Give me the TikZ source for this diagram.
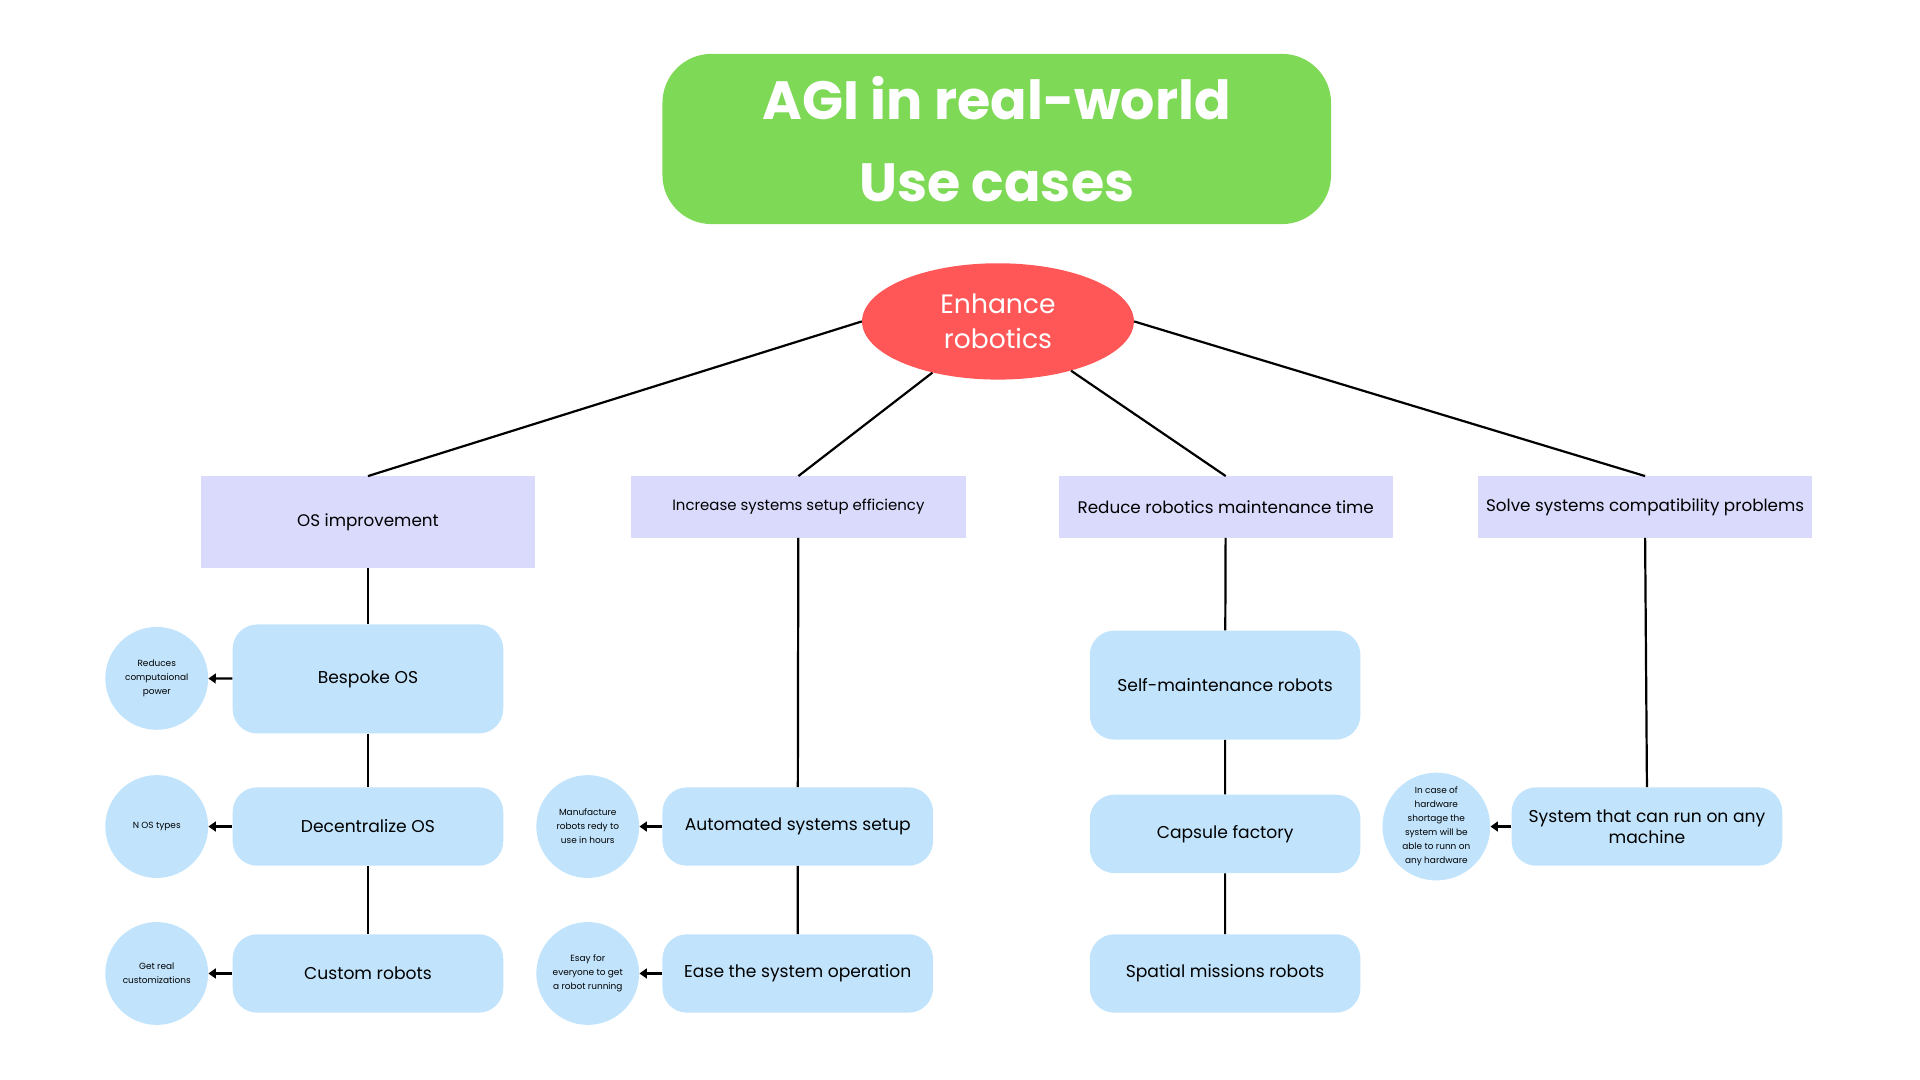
\documentclass[tikz,border=0pt]{standalone}
\usepackage{fontspec}
\setmainfont{Poppins}
\usetikzlibrary{shapes.geometric,arrows.meta}
\definecolor{titlegreen}{HTML}{7ED957}
\definecolor{hubred}{HTML}{FF5757}
\definecolor{lavender}{HTML}{D9DAFC}
\definecolor{skyblue}{HTML}{C1E4FC}

\begin{document}
\begin{tikzpicture}[x=1pt,y=-1pt,
        goal/.style={rectangle,fill=lavender,minimum width=273pt,minimum height=50pt,
            inner sep=2pt,font=\fontsize{13.7}{16}\selectfont},
        usecase/.style={rectangle,rounded corners=20pt,fill=skyblue,minimum width=221pt,
            minimum height=64pt,align=center,font=\fontsize{14}{17}\selectfont},
        note/.style={circle,fill=skyblue,minimum size=84pt,inner sep=0pt,align=center,
            font=\fontsize{7.3}{11.4}\selectfont},
        link/.style={line width=1.8pt},
        pointer/.style={line width=1.8pt,-{Triangle[width=8pt,length=6pt]}}]
    \useasboundingbox (0,0) rectangle (1568,882);

    \node[rectangle,rounded corners=40pt,fill=titlegreen,minimum width=546pt,minimum height=139pt,
        text=white,align=center,font=\bfseries\fontsize{44}{67}\selectfont] (title) at (814,113.5)
        {AGI in real-world\\Use cases};
    \node[ellipse,fill=hubred,minimum width=222pt,minimum height=95pt,inner sep=0pt,
        text=white,align=center,font=\fontsize{21.7}{28}\selectfont] (hub) at (815,262.5)
        {Enhance\\robotics};

    \node[goal,minimum height=75pt] (os)     at ( 300.5,426.5) {OS improvement};
    \node[goal,font=\fontsize{12.2}{14}\selectfont] (setup) at ( 652,414) {Increase systems setup efficiency};
    \node[goal] (maint)  at (1001,414) {Reduce robotics maintenance time};
    \node[goal] (compat) at (1343.5,414) {Solve systems compatibility problems};

    \node[usecase,minimum height=89pt] (bespoke) at ( 300.5,554.5) {Bespoke OS};
    \node[usecase] (decent)  at ( 300.5,675) {Decentralize OS};
    \node[usecase] (custom)  at ( 300.5,795) {Custom robots};
    \node[usecase] (auto)    at ( 651.5,675) {Automated systems setup};
    \node[usecase] (ease)    at ( 651.5,795) {Ease the system operation};
    \node[usecase,minimum height=89pt] (selfm) at (1000.5,559.5) {Self-maintenance robots};
    \node[usecase] (capsule) at (1000.5,681) {Capsule factory};
    \node[usecase] (spatial) at (1000.5,795) {Spatial missions robots};
    \node[usecase] (anyhw)   at (1345,675) {System that can run on any\\machine};

    \node[note] (n1) at ( 128,554) {Reduces\\computaional\\power};
    \node[note] (n2) at ( 128,675) {N OS types};
    \node[note] (n3) at ( 128,795) {Get real\\customizations};
    \node[note] (n4) at ( 480,675) {Manufacture\\robots redy to\\use in hours};
    \node[note] (n5) at ( 480,795) {Esay for\\everyone to get\\a robot running};
    \node[note,minimum size=88pt] (n6) at (1173,675) {In case of\\hardware\\shortage the\\system will be\\able to runn on\\any hardware};

    \draw[link] (hub.west) -- (os.north);
    \draw[link] (hub.218) -- (setup.north);
    \draw[link] (hub.326) -- (maint.north);
    \draw[link] (hub.east) -- (compat.north);

    \draw[link] (os) -- (bespoke) -- (decent) -- (custom);
    \draw[link] (setup) -- (auto) -- (ease);
    \draw[link] (maint) -- (selfm) -- (capsule) -- (spatial);
    \draw[link] (compat.south) -- (anyhw.north);

    \draw[pointer] (bespoke) -- (n1);
    \draw[pointer] (decent) -- (n2);
    \draw[pointer] (custom) -- (n3);
    \draw[pointer] (auto) -- (n4);
    \draw[pointer] (ease) -- (n5);
    \draw[pointer] (anyhw) -- (n6);

\end{tikzpicture}
\end{document}
